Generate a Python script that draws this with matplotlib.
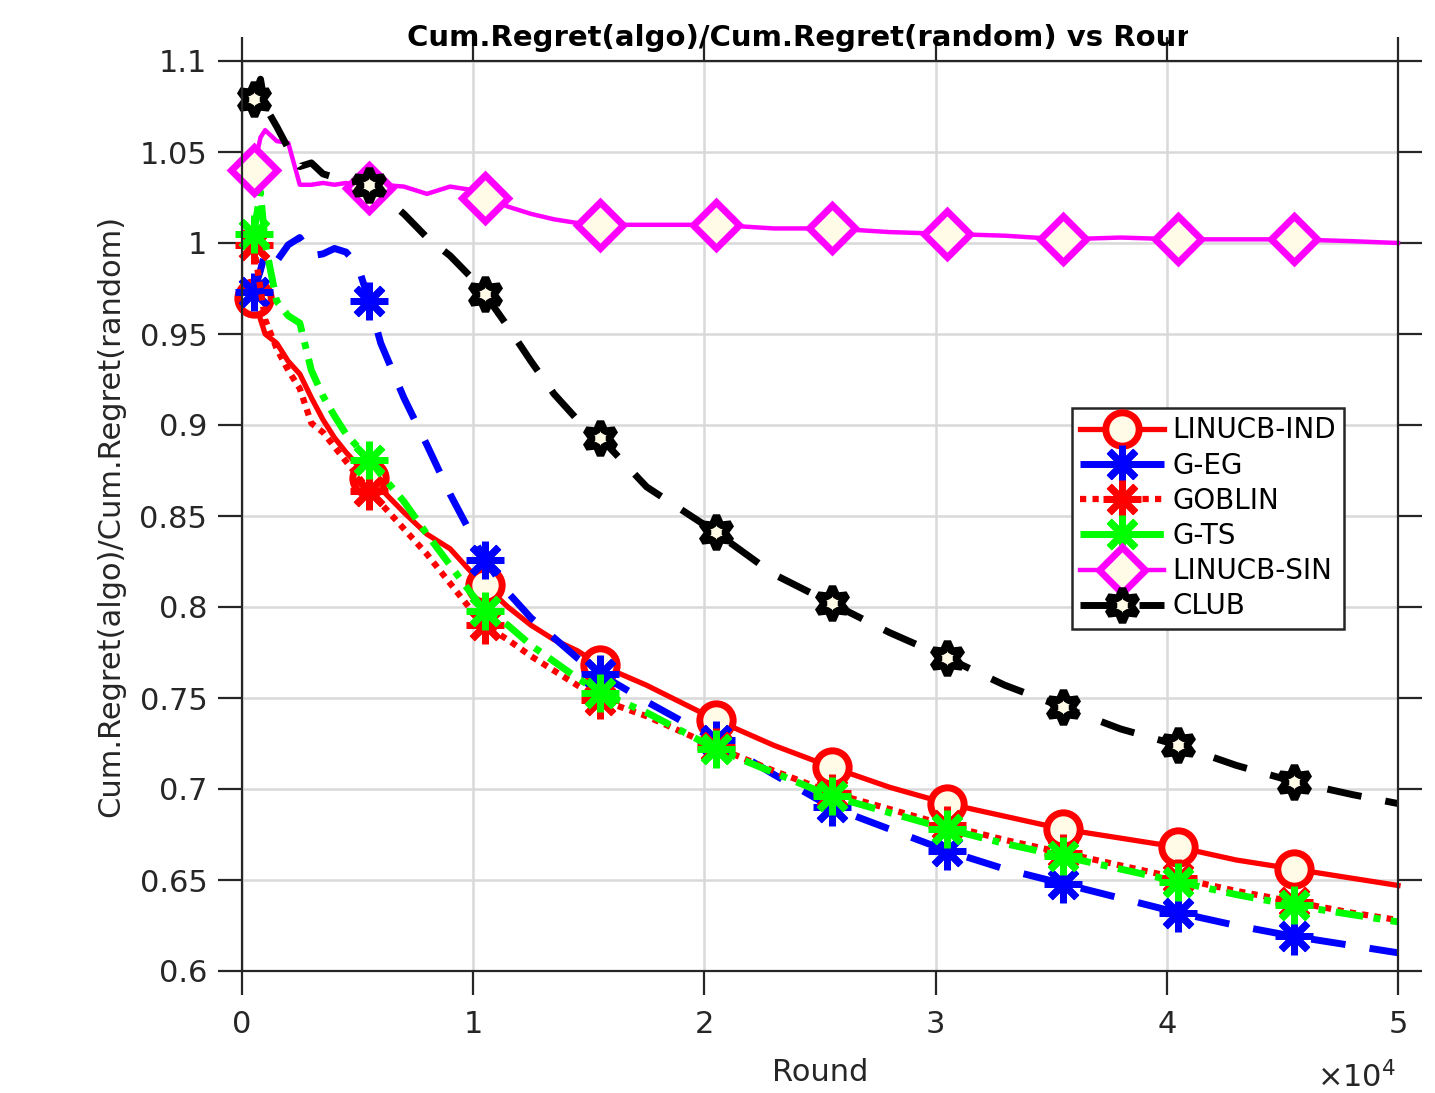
import numpy as np
import matplotlib
matplotlib.use('Agg')
import matplotlib.pyplot as plt
from matplotlib.patches import Rectangle

W, H = 1435, 1093

# ── data (rounds, ratio of cumulative regrets) ─────────────────────────────────
rounds = [500, 800, 1000, 1500, 2000, 2500, 3000, 3500, 4000, 4500, 5000,
          5500, 6000, 7000, 8000, 9000, 10000, 10500, 11500, 12500, 13500,
          14500, 15500, 17500, 20500, 23000, 25500, 28000, 30500, 33000,
          35500, 38000, 40500, 43000, 45500, 48000, 50000]

linucb_ind = [0.970, 0.958, 0.950, 0.945, 0.935, 0.928, 0.915, 0.903, 0.893, 0.885, 0.878,
              0.871, 0.865, 0.852, 0.840, 0.832, 0.818, 0.812, 0.800, 0.790, 0.782,
              0.776, 0.768, 0.757, 0.738, 0.724, 0.712, 0.701, 0.692, 0.685,
              0.678, 0.673, 0.668, 0.661, 0.656, 0.651, 0.647]
g_eg = [0.973, 0.985, 0.995, 0.990, 0.999, 1.003, 0.993, 0.994, 0.997, 0.995, 0.988,
        0.968, 0.945, 0.915, 0.889, 0.862, 0.838, 0.826, 0.808, 0.794, 0.783,
        0.772, 0.763, 0.748, 0.727, 0.708, 0.690, 0.678, 0.666, 0.656,
        0.648, 0.640, 0.632, 0.625, 0.619, 0.614, 0.610]
goblin = [0.999, 0.975, 0.958, 0.942, 0.930, 0.920, 0.901, 0.896, 0.888, 0.880, 0.872,
          0.864, 0.857, 0.843, 0.829, 0.813, 0.797, 0.790, 0.782, 0.773, 0.765,
          0.757, 0.749, 0.740, 0.723, 0.710, 0.698, 0.689, 0.680, 0.672,
          0.665, 0.658, 0.651, 0.644, 0.638, 0.632, 0.628]
g_ts = [1.005, 1.028, 1.000, 0.968, 0.960, 0.956, 0.930, 0.916, 0.905, 0.895, 0.888,
        0.881, 0.873, 0.858, 0.840, 0.823, 0.806, 0.798, 0.790, 0.779, 0.770,
        0.761, 0.753, 0.742, 0.722, 0.709, 0.696, 0.687, 0.678, 0.670,
        0.663, 0.656, 0.649, 0.642, 0.636, 0.631, 0.627]
linucb_sin = [1.040, 1.058, 1.062, 1.056, 1.055, 1.032, 1.032, 1.033, 1.032, 1.033, 1.032,
              1.030, 1.032, 1.031, 1.027, 1.031, 1.029, 1.025, 1.020, 1.016, 1.013,
              1.011, 1.010, 1.010, 1.010, 1.008, 1.008, 1.006, 1.005, 1.004,
              1.002, 1.003, 1.002, 1.002, 1.002, 1.001, 1.000]
club = [1.079, 1.090, 1.075, 1.064, 1.052, 1.042, 1.044, 1.038, 1.036, 1.033, 1.034,
        1.032, 1.027, 1.016, 1.003, 0.993, 0.980, 0.972, 0.954, 0.935, 0.917,
        0.903, 0.893, 0.866, 0.841, 0.818, 0.802, 0.786, 0.772, 0.757,
        0.745, 0.733, 0.724, 0.713, 0.704, 0.697, 0.692]

labels = ['LINUCB-IND', 'G-EG', 'GOBLIN', 'G-TS', 'LINUCB-SIN', 'CLUB']
series = [linucb_ind, g_eg, goblin, g_ts, linucb_sin, club]

# markers every 5000 rounds starting at 500
mark_idx = [i for i, r in enumerate(rounds) if (r - 500) % 5000 == 0]

FACE = '#fffbe6'
styles = [
    dict(color='#ff0000', ls='-', lw=3.8, marker='o', ms=24, mew=5.0),
    dict(color='#0000ff', ls=(0, (5, 3.5)), lw=5.0, marker=(8, 2, 0), ms=27, mew=5.0),
    dict(color='#ff0000', ls=(0, (1.0, 1.0)), lw=4.5, marker=(8, 2, 0), ms=27, mew=5.0),
    dict(color='#00ff00', ls=(0, (4, 1.5, 1, 1.5)), lw=5.0, marker=(8, 2, 0), ms=27, mew=5.0),
    dict(color='#ff00ff', ls='-', lw=3.2, marker='D', ms=23, mew=5.0),
    dict(color='#000000', ls=(0, (5, 3.5)), lw=5.0, marker=(6, 1, 0), ms=24, mew=5.5),
]

plt.rcParams['font.family'] = 'DejaVu Sans'
fig = plt.figure(figsize=(W / 100, H / 100), dpi=100)
ax = fig.add_axes([242 / W, 1 - 971 / H, (1398 - 242) / W, (971 - 61) / H])

for lab, ys, st in zip(labels, series, styles):
    ax.plot(rounds, ys, label=lab, color=st['color'], ls=st['ls'], lw=st['lw'],
            marker=st['marker'], ms=st['ms'], mew=st['mew'],
            mec=st['color'], mfc=FACE, markevery=mark_idx, clip_on=False)

ax.set_xlim(0, 50000)
ax.set_ylim(0.6, 1.1)
ax.set_xticks(np.arange(0, 50001, 10000))
ax.set_xticklabels(['0', '1', '2', '3', '4', '5'])
yt = np.arange(0.6, 1.1001, 0.05)
ax.set_yticks(yt)
ax.set_yticklabels([f'{v:g}' for v in np.round(yt, 2)])

ax.grid(True, color='#d9d9d9', lw=1.8)
ax.set_axisbelow(True)
for sp in ax.spines.values():
    sp.set_color('#262626')
    sp.set_linewidth(1.6)
ax.tick_params(direction='out', length=17, width=1.6, colors='#262626',
               labelsize=22, top=True, right=True)
ax.tick_params(axis='x', pad=11)
ax.tick_params(axis='y', pad=8)

ax.set_xlabel('Round', fontsize=22, color='#262626', labelpad=14)
ax.set_ylabel('Cum.Regret(algo)/Cum.Regret(random)', fontsize=22, color='#262626',
              labelpad=10)
fig.text(1357 / W, 1 - 1077 / H, r'$\times10^4$', fontsize=22, color='#262626',
         ha='center', va='center')

# title; its right end is cut off in the original
fig.text(407 / W, 1 - 38 / H, 'Cum.Regret(algo)/Cum.Regret(random) vs Round',
         fontsize=21, fontweight='bold', ha='left', va='center', zorder=3)
fig.patches.append(Rectangle((1188 / W, 1 - 58 / H), 120 / W, 50 / H,
                             transform=fig.transFigure, facecolor='white',
                             edgecolor='none', zorder=5))

leg = ax.legend(loc='upper left', bbox_to_anchor=((1072 - 242) / 1156, (971 - 408) / 910),
                borderaxespad=0, fontsize=20, frameon=True, fancybox=False,
                edgecolor='#262626', framealpha=1, handlelength=3.0,
                handletextpad=0.3, labelspacing=0.26, borderpad=0.3)
leg.get_frame().set_linewidth(1.8)

fig.savefig('out.png', dpi=100)
